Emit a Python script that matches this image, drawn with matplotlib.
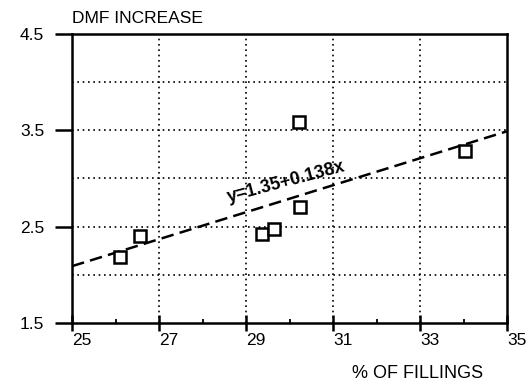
#!/usr/bin/env python3
import matplotlib
matplotlib.use("Agg")
import matplotlib.pyplot as plt
import numpy as np

# --- [ DMF increase vs % of fillings, with linear fit ] ---

# data
FILLINGS_PCT = [26.1, 26.55, 29.37, 29.65, 30.24, 30.22, 34.03]
DMF_INCREASE = [2.18, 2.40, 2.42, 2.48, 2.70, 3.59, 3.28]

# fit line as drawn (the printed equation is kept as the label)
FIT_INTERCEPT = -1.41
FIT_SLOPE = 0.14
FIT_LABEL = "y=1.35+0.138x"

X_TICKS = [25, 27, 29, 31, 33, 35]
X_MINOR = [26, 28, 30, 32, 34]
Y_TICKS = [1.5, 2.5, 3.5, 4.5]
Y_GRID = [2.0, 2.5, 3.0, 3.5, 4.0]

plt.rcParams["font.family"] = ["Liberation Sans", "DejaVu Sans"]

fig = plt.figure(figsize=(5.3, 3.85), dpi=100)
ax = fig.add_axes([0.136, 0.161, 0.821, 0.751])

ax.set_xlim(25, 35)
ax.set_ylim(1.5, 4.5)

for xg in X_TICKS[1:-1]:
    ax.axvline(xg, color="black", linestyle=(0, (1, 2.2)), linewidth=1.2, zorder=1)
for yg in Y_GRID:
    ax.axhline(yg, color="black", linestyle=(0, (1, 2.2)), linewidth=1.2, zorder=1)

x_fit = np.array([25.0, 35.0])
ax.plot(x_fit, FIT_INTERCEPT + FIT_SLOPE * x_fit, color="black",
        linestyle=(0, (5, 2.5)), linewidth=1.8, zorder=2)

ax.plot(FILLINGS_PCT, DMF_INCREASE, linestyle="none", marker="s",
        markersize=9, markerfacecolor="white", markeredgecolor="black",
        markeredgewidth=1.8, zorder=3)

ax.text(29.92, 2.96, FIT_LABEL, rotation=15, ha="center", va="center",
        fontsize=13, fontweight="bold", zorder=4)

for side in ["left", "right", "top", "bottom"]:
    ax.spines[side].set_linewidth(1.8)

ax.set_xticks(X_TICKS)
ax.set_xticks(X_MINOR, minor=True)
ax.set_xticklabels([str(v) for v in X_TICKS], ha="left")
ax.set_yticks(Y_TICKS)
ax.set_yticklabels([f"{v:.1f}" for v in Y_TICKS])
ax.tick_params(axis="x", which="major", direction="inout", length=12, width=1.8,
               labelsize=12.5, pad=1)
ax.tick_params(axis="x", which="minor", direction="in", length=3, width=1.3)
ax.tick_params(axis="y", which="major", direction="out", length=12, width=1.8,
               labelsize=12.5, pad=8)

fig.text(0.136, 0.953, "DMF INCREASE", ha="left", va="center", fontsize=12.5)
fig.text(0.911, 0.031, "% OF FILLINGS", ha="right", va="center", fontsize=13)

fig.savefig("out.png", dpi=100)
plt.close(fig)
